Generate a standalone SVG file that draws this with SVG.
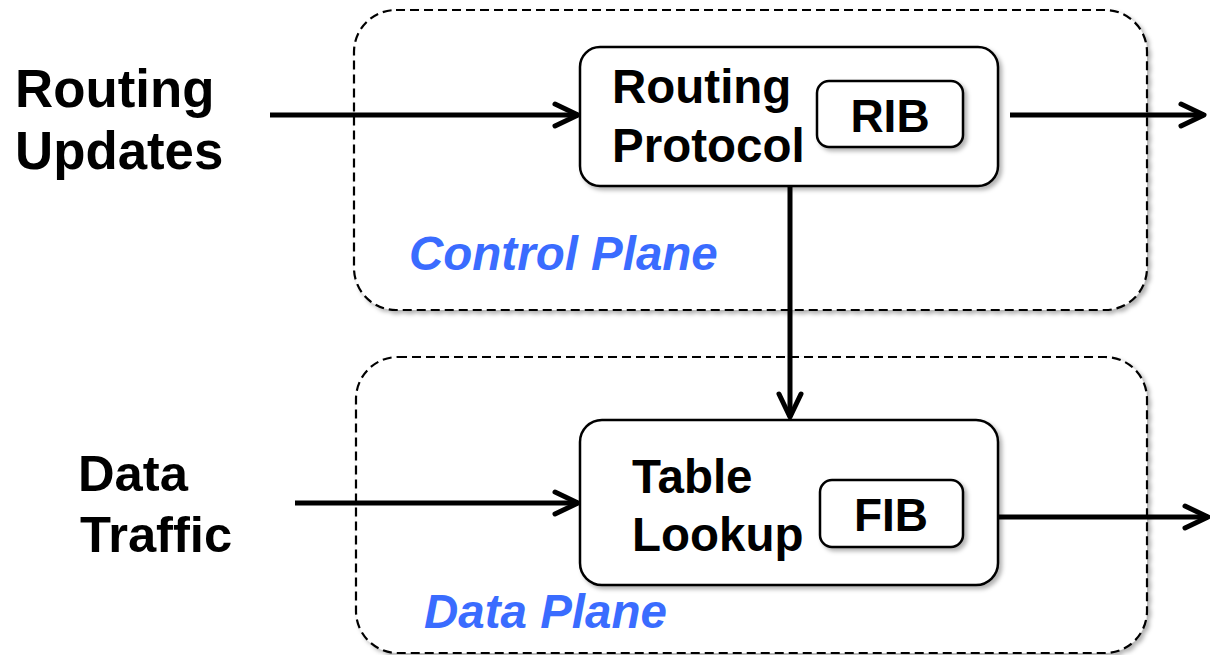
<svg xmlns="http://www.w3.org/2000/svg" width="1210" height="655" viewBox="0 0 1210 655">
<style>
.lbl{font-family:"Liberation Sans",Arial,sans-serif;font-weight:bold;fill:#000}
.plane{font-family:"Liberation Sans",Arial,sans-serif;font-weight:bold;font-style:italic;fill:#3a6cff;font-size:47.5px}
.dash{fill:#fff;stroke:#000;stroke-width:2.2;stroke-dasharray:9 5}
.box{fill:#fff;stroke:#000;stroke-width:2.5}
.conn{stroke:#000;stroke-width:5;fill:none}
</style>
<defs>
<filter id="sh" x="-10%" y="-10%" width="130%" height="130%">
<feDropShadow dx="3" dy="3" stdDeviation="2" flood-color="#000" flood-opacity="0.3"/>
</filter>
<marker id="arr" markerUnits="userSpaceOnUse" viewBox="-30 -16 34 32" refX="0" refY="0" markerWidth="34" markerHeight="32" orient="auto" overflow="visible">
<path d="M-23 -11 L0 0 L-23 11" fill="none" stroke="#000" stroke-width="5" stroke-linecap="round" stroke-linejoin="round"/>
</marker>
</defs>
<rect width="1210" height="655" fill="#fff"/>
<g id="control-plane">
<rect class="dash" x="354" y="10" width="793" height="300" rx="42" filter="url(#sh)"/>
<text class="plane" x="409" y="270">Control Plane</text>
</g>
<g id="data-plane">
<rect class="dash" x="356" y="357" width="791" height="296" rx="42" filter="url(#sh)"/>
<text class="plane" x="424" y="628">Data Plane</text>
</g>
<g id="routing-updates">
<text class="lbl" font-size="52.8" x="15" y="107">Routing</text>
<text class="lbl" font-size="52.8" x="15" y="169">Updates</text>
</g>
<g id="data-traffic">
<text class="lbl" font-size="50.7" x="78" y="491">Data</text>
<text class="lbl" font-size="50.7" x="80" y="552">Traffic</text>
</g>
<g id="routing-protocol">
<rect class="box" x="580" y="47" width="418" height="139" rx="20" filter="url(#sh)"/>
<text class="lbl" font-size="47.5" x="612" y="103">Routing</text>
<text class="lbl" font-size="47.5" x="612" y="162">Protocol</text>
</g>
<g id="rib">
<rect class="box" x="817" y="81" width="146" height="66" rx="12" filter="url(#sh)"/>
<text class="lbl" font-size="46" x="890" y="132" text-anchor="middle">RIB</text>
</g>
<g id="table-lookup">
<rect class="box" x="580" y="420" width="418" height="165" rx="22" filter="url(#sh)"/>
<text class="lbl" font-size="47.5" x="632" y="493">Table</text>
<text class="lbl" font-size="47.5" x="632" y="551">Lookup</text>
</g>
<g id="fib">
<rect class="box" x="820" y="480" width="143" height="67" rx="12" filter="url(#sh)"/>
<text class="lbl" font-size="46" x="891" y="531" text-anchor="middle">FIB</text>
</g>
<g id="connectors">
<line class="conn" x1="270" y1="115" x2="578" y2="115" marker-end="url(#arr)"/>
<line class="conn" x1="1010" y1="115" x2="1204" y2="115" marker-end="url(#arr)"/>
<line class="conn" x1="790" y1="186" x2="790" y2="417" marker-end="url(#arr)"/>
<line class="conn" x1="295" y1="503" x2="578" y2="503" marker-end="url(#arr)"/>
<line class="conn" x1="998" y1="517" x2="1208" y2="517" marker-end="url(#arr)"/>
</g>
</svg>
